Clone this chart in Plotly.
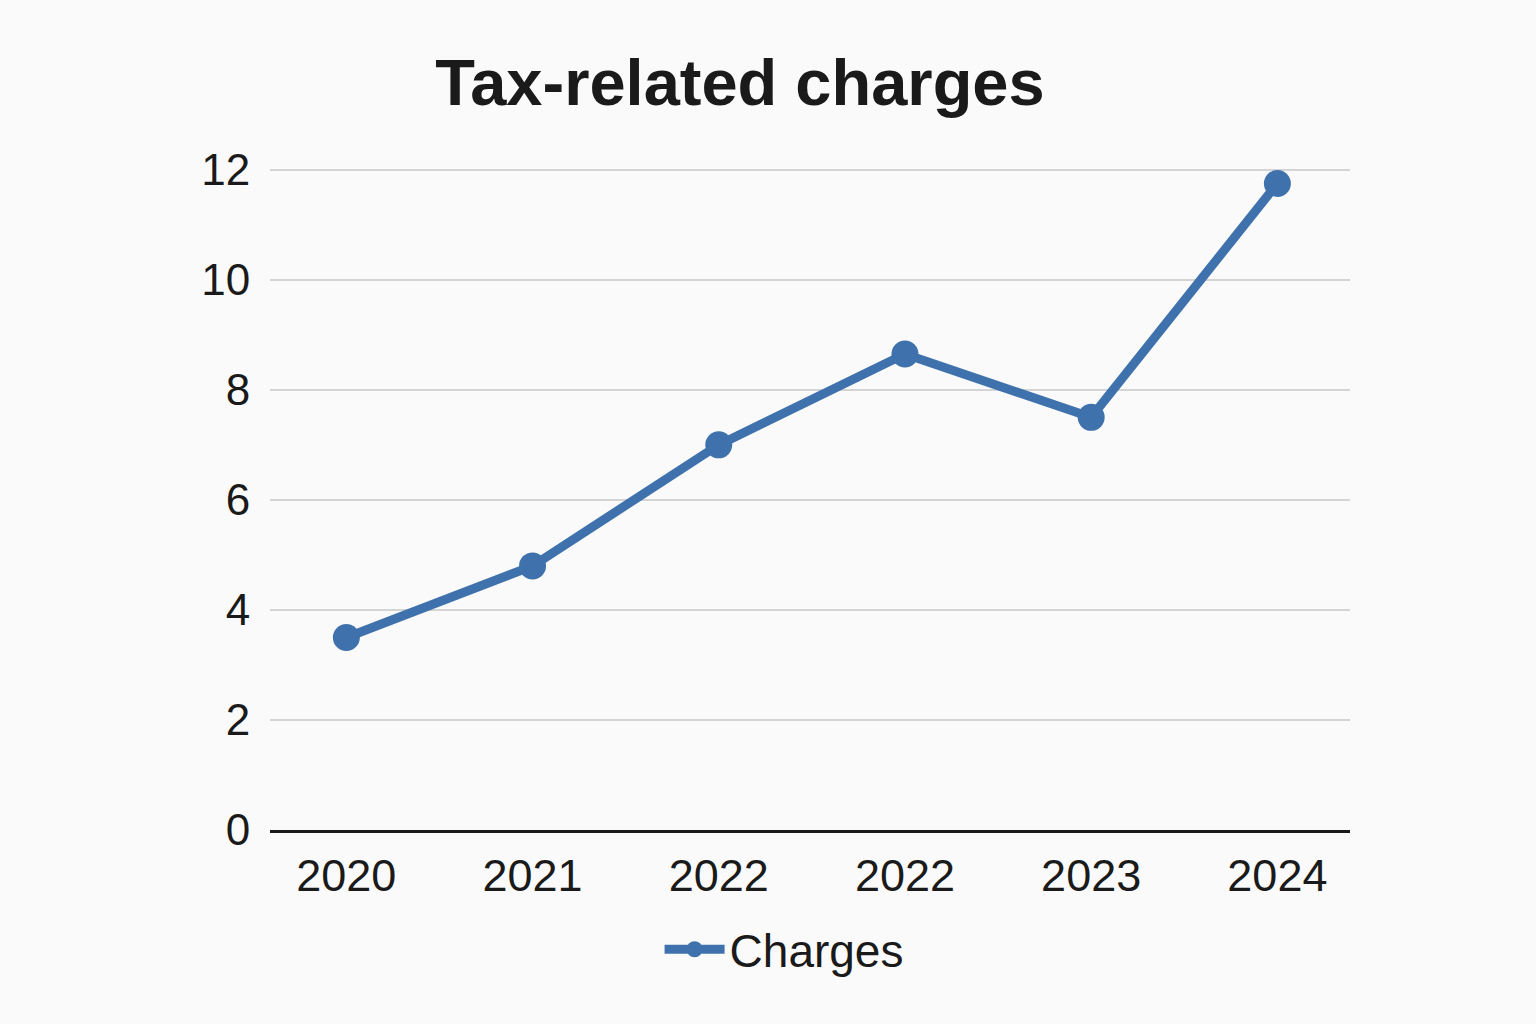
import plotly.graph_objects as go

years = ["2020", "2021", "2022", "2022", "2023", "2024"]
charges = [3.5, 4.8, 7.0, 8.65, 7.5, 11.75]
y_ticks = [0, 2, 4, 6, 8, 10, 12]

x_pos = list(range(len(years)))
blue = "#3f72ad"
font_family = "Liberation Sans, Arial, sans-serif"

fig = go.Figure()
fig.add_trace(go.Scatter(
    x=x_pos, y=charges, mode="lines+markers", name="Charges",
    line=dict(color=blue, width=9),
    marker=dict(color=blue, size=27),
))

fig.update_layout(
    width=1536, height=1024,
    paper_bgcolor="#fafafa", plot_bgcolor="#fafafa",
    margin=dict(l=270, r=186, t=167, b=194),
    title=dict(text="<b>Tax-related charges</b>", x=740/1536, xanchor="center",
               y=1 - 82/1024, yanchor="middle",
               font=dict(family=font_family, size=65, color="#1a1a1a")),
    font=dict(family=font_family, color="#1a1a1a"),
    showlegend=True,
    legend=dict(orientation="h", x=0.476, xanchor="center", y=-0.125, yanchor="top",
                font=dict(size=46, color="#1a1a1a"), itemwidth=60),
)
fig.update_xaxes(
    range=[-0.41, 5.39], tickmode="array", tickvals=x_pos, ticktext=years,
    showgrid=False, zeroline=False, showline=True, linecolor="#1a1a1a", linewidth=2.5,
    ticks="outside", ticklen=4, tickcolor="rgba(0,0,0,0)",
    tickfont=dict(size=45, color="#1a1a1a"),
)
fig.update_yaxes(
    range=[0, 12.05], tickmode="array", tickvals=y_ticks,
    showgrid=True, gridcolor="#d4d4d4", gridwidth=1.5, zeroline=False,
    ticks="outside", ticklen=10, tickcolor="rgba(0,0,0,0)",
    tickfont=dict(size=44, color="#1a1a1a"),
)

fig.write_html("out.html", config={"displayModeBar": False},
               post_script="document.body.style.margin='0';")
